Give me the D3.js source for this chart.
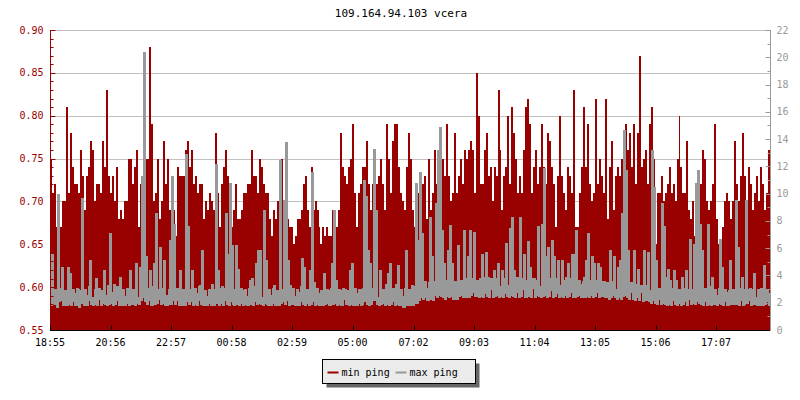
<!DOCTYPE html>
<html>
<head>
<meta charset="utf-8">
<script src="https://cdn.jsdelivr.net/npm/d3@7"></script>
<style>
  html, body { margin: 0; padding: 0; background: #ffffff; }
  svg { display: block; }
  text { font-family: "DejaVu Sans Mono", "Liberation Mono", monospace; font-size: 10px; }
</style>
</head>
<body>
<svg id="chart" width="800" height="400"></svg>
<script>
// ---------------- data ----------------
const title = "109.164.94.103 vcera";
const seriesNames = ["min ping", "max ping"];
const timeLabels = ["18:55","20:56","22:57","00:58","02:59","05:00","07:02","09:03","11:04","13:05","15:06","17:07"];
const leftTicks = [0.55, 0.60, 0.65, 0.70, 0.75, 0.80, 0.85, 0.90];
const rightTicks = [0, 2, 4, 6, 8, 10, 12, 14, 16, 18, 20, 22];

// min ping (left axis), one value per 4 minutes from 18:55
const minPing = [
  0.75,0.71,0.72,0.67,0.66,0.67,0.70,0.70,0.81,0.71,
  0.78,0.74,0.72,0.72,0.71,0.76,0.73,0.69,0.73,0.74,
  0.77,0.76,0.70,0.72,0.72,0.71,0.77,0.74,0.83,0.73,
  0.71,0.73,0.70,0.74,0.68,0.69,0.68,0.70,0.70,0.75,
  0.75,0.72,0.74,0.76,0.67,0.72,0.73,0.76,0.75,0.75,
  0.88,0.79,0.70,0.71,0.75,0.68,0.70,0.77,0.72,0.75,
  0.69,0.65,0.69,0.66,0.74,0.73,0.73,0.73,0.76,0.77,
  0.74,0.76,0.72,0.73,0.71,0.72,0.72,0.68,0.70,0.69,
  0.71,0.70,0.69,0.78,0.71,0.67,0.72,
  0.74,0.76,0.73,0.70,0.67,0.69,0.72,0.68,0.68,0.69,
  0.71,0.71,0.72,0.72,0.76,0.73,0.73,0.71,0.75,0.74,
  0.72,0.71,0.71,0.68,0.66,0.69,0.68,0.70,0.67,0.75,
  0.70,0.71,0.68,0.67,0.67,0.65,0.66,0.68,0.68,0.69,
  0.72,0.73,0.69,0.67,0.74,0.69,0.70,0.69,0.67,0.65,
  0.67,0.66,0.67,0.66,0.66,0.69,0.65,0.67,0.69,0.78,
  0.74,0.73,0.72,0.74,0.75,0.79,0.71,0.67,0.71,0.72,
  0.74,0.74,0.77,0.72,0.69,0.72,0.70,0.72,0.73,0.75,
  0.72,0.69,0.79,0.75,0.71,0.77,0.79,
  0.79,0.74,0.71,0.70,0.69,0.74,0.78,0.75,0.69,0.67,
  0.65,0.71,0.70,0.72,0.73,0.68,0.75,0.69,0.71,0.76,
  0.72,0.69,0.69,0.75,0.73,0.79,0.73,0.70,0.71,0.78,
  0.71,0.73,0.75,0.72,0.76,0.75,0.76,0.77,0.76,0.71,
  0.85,0.80,0.72,0.72,0.76,0.78,0.73,0.74,0.70,0.74,
  0.73,0.83,0.76,0.69,0.73,0.74,0.80,0.72,0.81,0.78,
  0.75,0.71,0.73,0.71,0.76,0.81,0.82,0.79,0.71,0.74,
  0.76,0.72,0.74,0.79,0.74,0.72,0.78,0.77,0.74,0.72,
  0.67,0.73,0.80,0.73,0.71,0.69,0.74,0.73,
  0.71,0.83,0.67,0.67,0.71,0.74,0.81,0.74,0.79,0.72,
  0.70,0.71,0.82,0.72,0.75,0.73,0.71,0.82,0.68,0.74,
  0.77,0.69,0.73,0.74,0.73,0.75,0.74,0.79,0.76,0.78,
  0.74,0.79,0.72,0.78,0.87,0.74,0.75,0.76,0.72,0.79,
  0.81,0.75,0.65,0.71,0.71,0.73,0.70,0.71,0.72,0.74,
  0.71,0.72,0.70,0.75,0.80,0.74,0.71,0.71,0.77,0.69,
  0.68,0.70,0.66,0.71,0.68,0.72,0.76,0.75,0.70,0.69,
  0.70,0.72,0.79,0.68,0.65,0.65,0.67,0.70,0.71,0.70,
  0.68,0.70,0.77,0.72,0.70,0.73,0.78,
  0.73,0.70,0.74,0.72,0.69,0.71,0.73,0.70,0.74,0.72,0.69,0.71,0.76
];

// max ping (right axis), one value per 2 minutes from 18:55
const maxPing = [
  2.4,1.8,5.6,1.9,1.9,3.0,2.8,1.7,10.0,2.1,2.2,3.1,4.6,1.8,1.8,2.9,2.9,1.8,4.6,1.9,
  4.2,1.8,2.1,3.0,2.7,1.8,1.8,3.1,3.0,1.7,2.0,2.9,9.7,2.0,1.8,3.0,2.6,1.8,2.2,3.2,
  5.1,1.9,2.4,1.8,1.9,3.0,3.8,1.8,2.3,3.1,2.9,1.8,2.0,2.9,4.4,1.9,2.6,1.8,3.3,1.9,
  7.1,2.0,2.8,1.8,3.4,1.9,2.2,3.2,3.0,1.8,3.9,1.9,1.8,3.0,2.5,1.8,2.0,3.1,3.1,1.8,
  4.4,1.9,1.9,3.0,2.7,1.8,4.9,2.0,2.4,1.9,4.6,2.2,11.3,2.4,20.4,2.1,5.4,1.9,2.2,3.1,
  4.4,1.8,1.8,3.2,4.9,1.9,8.6,2.0,2.3,3.0,6.1,1.9,2.0,3.1,5.1,1.8,2.6,1.8,1.9,3.0,
  6.6,1.9,11.3,2.2,7.8,1.9,2.2,3.1,2.9,1.8,4.4,1.9,1.8,3.0,2.6,1.8,12.9,2.1,7.6,1.9,
  2.1,3.0,4.4,1.8,1.9,3.1,2.7,1.8,2.2,3.2,3.3,1.9,5.9,1.8,1.8,2.9,2.5,1.8,2.0,3.0,
  2.8,1.8,3.4,1.9,1.8,3.0,12.2,2.0,4.4,1.8,2.0,3.1,3.2,1.8,
  2.2,3.1,8.6,1.9,5.6,1.8,10.8,2.1,6.2,1.9,1.8,3.0,6.2,1.9,4.5,1.8,2.0,3.1,2.9,1.8,
  1.9,3.0,2.5,1.8,1.8,3.1,3.7,1.9,3.8,1.8,2.1,3.2,4.9,1.9,5.9,2.0,5.9,1.9,2.4,1.8,
  8.8,2.0,5.1,1.9,1.8,3.0,2.6,1.8,2.0,3.1,3.3,1.8,1.8,2.9,2.4,1.8,12.5,2.0,2.1,3.0,
  9.5,1.9,13.8,2.2,5.1,1.8,3.3,1.9,1.9,3.1,2.5,1.8,1.8,3.0,2.8,1.8,2.1,3.2,5.3,1.9,
  4.6,1.8,2.0,3.0,2.6,1.8,4.4,1.9,11.6,2.1,3.5,1.8,1.9,3.1,2.7,1.8,1.8,2.9,2.4,1.8,
  4.2,1.9,2.0,3.0,2.9,1.8,1.8,3.1,4.9,1.9,8.8,2.0,3.7,1.8,1.9,3.0,2.9,1.8,1.8,3.1,
  2.3,3.0,1.9,2.9,2.6,1.8,4.4,1.9,4.9,1.8,1.8,3.1,2.7,1.8,2.0,3.0,3.0,1.8,1.9,3.1,
  11.0,2.1,9.8,1.9,5.9,1.8,4.9,1.9,2.2,3.1,13.3,2.2,8.8,1.9,2.4,1.8,4.4,1.9,2.0,3.0,
  2.9,1.8,3.4,1.9,4.2,1.8,4.9,1.9,2.1,3.1,3.0,1.8,3.4,1.9,
  4.8,1.8,1.8,3.0,2.5,1.7,1.7,3.1,5.9,1.8,2.2,3.0,1.8,2.9,3.3,1.8,2.0,3.2,10.8,2.0,
  6.6,2.2,11.6,2.4,7.1,2.3,2.4,3.6,3.1,2.2,2.2,3.5,8.3,2.3,5.4,2.2,2.6,3.6,9.3,2.4,
  13.2,2.6,14.9,2.5,7.3,2.4,4.9,2.3,2.5,3.7,5.9,2.4,7.7,2.5,4.9,2.3,2.3,3.6,3.4,2.3,
  6.2,2.5,2.6,3.7,3.5,2.4,7.3,2.5,2.4,3.8,5.4,2.4,7.3,2.6,2.8,3.8,7.2,2.5,2.5,3.7,
  3.4,2.4,3.8,2.5,5.6,2.4,2.7,3.9,5.7,2.5,3.9,2.4,3.0,3.8,3.6,2.4,4.4,2.5,2.6,3.8,
  4.9,2.4,3.2,2.5,4.4,2.4,2.7,3.8,6.4,2.5,3.3,2.4,7.5,2.6,8.3,2.5,4.4,2.4,2.8,3.9,
  3.6,2.4,8.3,2.5,3.0,3.8,5.6,2.4,2.4,3.7,6.5,2.5,4.6,2.4,3.1,3.8,3.8,2.4,2.6,3.7,
  7.6,2.5,3.2,2.4,7.8,2.5,11.9,2.6,5.4,2.4,6.1,2.5,2.9,3.8,6.6,2.4,5.4,2.5,2.7,3.8,
  5.1,2.4,3.3,2.5,5.1,2.4,2.6,3.7,3.9,2.4,4.9,2.5,2.8,3.8,5.6,2.4,
  5.6,2.4,7.3,2.5,2.6,3.7,3.4,2.4,2.4,3.6,3.9,2.4,5.1,2.5,7.1,2.4,2.6,3.7,5.4,2.4,
  4.9,2.5,2.8,3.7,4.9,2.4,4.6,2.5,2.5,3.6,3.6,2.4,2.4,3.5,3.2,2.3,5.9,2.4,2.6,3.6,
  5.4,2.4,3.0,2.3,4.6,2.4,5.1,2.3,8.6,2.5,14.7,2.6,11.7,2.4,5.9,2.3,2.8,3.5,3.5,2.3,
  5.9,2.2,2.4,3.4,4.5,2.2,2.8,3.3,3.3,2.1,5.9,2.2,2.2,3.3,5.7,2.1,2.9,2.0,13.2,2.2,
  10.5,2.0,5.1,1.9,2.3,3.1,2.9,1.9,9.3,2.0,7.6,1.9,3.9,1.8,4.5,1.9,3.7,1.8,2.2,3.1,
  4.4,1.9,3.7,1.8,2.0,3.0,2.9,1.8,3.9,1.9,2.1,3.1,4.4,1.8,2.3,3.0,6.7,1.9,2.0,3.0,
  6.3,1.9,10.8,2.1,11.7,2.0,7.8,1.9,5.9,1.8,2.1,3.1,2.7,1.8,7.8,1.9,3.2,1.8,3.9,1.9,
  1.9,3.0,2.6,1.8,2.0,3.1,6.7,1.9,4.6,1.8,2.1,3.0,2.8,1.8,1.8,2.9,5.1,1.9,2.3,3.0,
  1.9,3.0,9.5,1.9,6.1,1.8,2.2,3.1,3.9,1.8,1.9,3.0,9.5,2.0,
  2.2,3.0,3.1,1.8,1.9,3.0,4.2,1.9,2.4,1.8,3.0,1.9,1.8,3.1,2.6,1.8,4.8,1.9,2.1,3.0,2.7,1.8
];

// ---------------- chart ----------------
const plot = { left: 50, right: 770, top: 30, bottom: 330 };
const RED = "#990000", GRAY = "#999999", GRID = "#c0c0c0";
const svg = d3.select("#chart");

// 24 h over 720 px
const xTime = d3.scaleLinear().domain([0, 1440]).range([plot.left, plot.right]);
const minStep = 1440 / minPing.length;   // minutes per min-ping sample
const maxStep = 1440 / maxPing.length;   // minutes per max-ping sample
const yL = d3.scaleLinear().domain([0.55, 0.90]).range([plot.bottom, plot.top]);
const yR = d3.scaleLinear().domain([0, 22]).range([plot.bottom, plot.top]);

function toMin(s) { const [h, m] = s.split(":").map(Number); return h * 60 + m; }
const t0 = toMin(timeLabels[0]);
const tickMinutes = timeLabels.map(s => ((toMin(s) - t0) + 1440) % 1440);

svg.append("clipPath").attr("id", "plotclip").append("rect")
  .attr("x", plot.left + 1).attr("y", plot.top - 2)
  .attr("width", plot.right - plot.left - 1).attr("height", plot.bottom - plot.top + 2);

// gridlines (left major ticks)
svg.append("g").selectAll("line")
  .data(leftTicks.filter(v => v > 0.55))
  .join("line")
  .attr("x1", plot.left).attr("x2", plot.right)
  .attr("y1", d => Math.round(yL(d)) + 0.5).attr("y2", d => Math.round(yL(d)) + 0.5)
  .attr("stroke", GRID).attr("stroke-width", 1);

const gData = svg.append("g").attr("clip-path", "url(#plotclip)");

// min ping filled area
const area = d3.area()
  .x((d, i) => Math.round(xTime(i * minStep)))
  .y0(yL(0.55))
  .y1(d => Math.round(yL(d)))
  .curve(d3.curveStepAfter);
gData.append("path")
  .datum(minPing.concat([minPing[minPing.length - 1]]))
  .attr("d", area)
  .attr("fill", RED)
  .attr("shape-rendering", "crispEdges");

// max ping: aliased line, drawn segment by segment (each segment spans
// the move from the previous sample to the current one)
const segs = maxPing.map((v, i) => {
  const p = i > 0 ? maxPing[i - 1] : v;
  const ya = Math.round(yR(p)), yb = Math.round(yR(v));
  return { x: Math.round(xTime(i * maxStep)), y: Math.min(ya, yb), h: Math.abs(ya - yb) + 1 };
});
gData.append("g").selectAll("rect")
  .data(segs)
  .join("rect")
  .attr("x", d => d.x - 1).attr("y", d => d.y)
  .attr("width", 2).attr("height", d => d.h)
  .attr("fill", GRAY)
  .attr("shape-rendering", "crispEdges");

// left axis
const gL = svg.append("g").attr("transform", `translate(${plot.left + 0.5},0)`);
gL.append("line").attr("y1", plot.top).attr("y2", plot.bottom).attr("stroke", RED);
const minorL = d3.range(0, 36).map(i => 0.55 + i * 0.01);
gL.selectAll("line.minor").data(minorL).join("line").attr("class", "minor")
  .attr("x1", 0).attr("x2", 3)
  .attr("y1", d => Math.round(yL(d)) + 0.5).attr("y2", d => Math.round(yL(d)) + 0.5)
  .attr("stroke", RED);
gL.selectAll("line.major").data(leftTicks).join("line").attr("class", "major")
  .attr("x1", 0).attr("x2", 5)
  .attr("y1", d => Math.round(yL(d)) + 0.5).attr("y2", d => Math.round(yL(d)) + 0.5)
  .attr("stroke", RED);
gL.selectAll("text").data(leftTicks).join("text")
  .attr("x", -7).attr("y", d => yL(d)).attr("dy", "0.35em")
  .attr("text-anchor", "end").attr("fill", RED)
  .text(d3.format(".2f"));

// right axis
const gR = svg.append("g").attr("transform", `translate(${plot.right + 0.5},0)`);
gR.append("line").attr("y1", plot.top).attr("y2", plot.bottom).attr("stroke", GRAY);
gR.selectAll("line.minor").data(d3.range(0, 23)).join("line").attr("class", "minor")
  .attr("x1", 0).attr("x2", -3)
  .attr("y1", d => Math.round(yR(d)) + 0.5).attr("y2", d => Math.round(yR(d)) + 0.5)
  .attr("stroke", GRAY);
gR.selectAll("line.major").data(rightTicks).join("line").attr("class", "major")
  .attr("x1", 0).attr("x2", -5)
  .attr("y1", d => Math.round(yR(d)) + 0.5).attr("y2", d => Math.round(yR(d)) + 0.5)
  .attr("stroke", GRAY);
gR.selectAll("text").data(rightTicks).join("text")
  .attr("x", 6).attr("y", d => yR(d)).attr("dy", "0.35em")
  .attr("text-anchor", "start").attr("fill", GRAY)
  .text(d => d);

// bottom axis
const gB = svg.append("g").attr("transform", `translate(0,${plot.bottom + 0.5})`);
gB.append("line").attr("x1", plot.left).attr("x2", plot.right).attr("stroke", "#000");
gB.selectAll("line.tick").data(tickMinutes).join("line").attr("class", "tick")
  .attr("x1", d => Math.round(xTime(d)) + 0.5).attr("x2", d => Math.round(xTime(d)) + 0.5)
  .attr("y1", 0).attr("y2", -5).attr("stroke", "#000");
gB.selectAll("text").data(tickMinutes).join("text")
  .attr("x", d => xTime(d)).attr("y", 15)
  .attr("text-anchor", "middle").attr("fill", "#000")
  .text((d, i) => timeLabels[i]);

// title
svg.append("text").attr("x", 401).attr("y", 17).attr("text-anchor", "middle")
  .style("font-size", "11px").attr("fill", "#000").text(title);

// legend
const lg = svg.append("g").attr("transform", "translate(322.5,359.5)");
const lgW = 153, lgH = 24;
lg.append("rect").attr("x", 4).attr("y", 4).attr("width", lgW).attr("height", lgH).attr("fill", "#666666");
lg.append("rect").attr("x", 0).attr("y", 0).attr("width", lgW).attr("height", lgH)
  .attr("fill", "#ebebeb").attr("stroke", "#000").attr("stroke-width", 1);
const items = [
  { name: seriesNames[0], color: RED, x: 5 },
  { name: seriesNames[1], color: GRAY, x: 73 }
];
items.forEach(it => {
  lg.append("line").attr("x1", it.x).attr("x2", it.x + 11)
    .attr("y1", 13).attr("y2", 13).attr("stroke", it.color).attr("stroke-width", 2);
  lg.append("text").attr("x", it.x + 14).attr("y", 16).attr("fill", "#000").text(it.name);
});
</script>
</body>
</html>
